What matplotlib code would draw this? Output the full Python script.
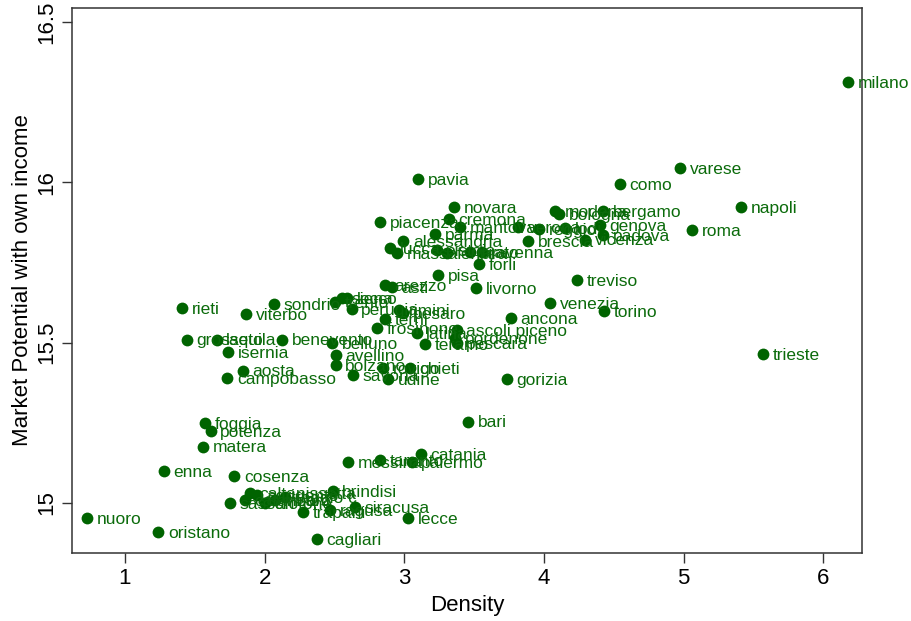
import matplotlib.pyplot as plt
import matplotlib

matplotlib.rcParams['font.family'] = ['Liberation Sans', 'DejaVu Sans']

# provinces, density and market potential
names = ['milano', 'varese', 'napoli', 'como', 'roma', 'pavia', 'novara',
         'piacenza', 'cremona', 'mantova', 'parma', 'alessandria', 'brescia',
         'verona', 'reggio', 'lodi', 'genova', 'padova', 'bergamo', 'modena',
         'bologna', 'vicenza', 'treviso', 'venezia', 'torino', 'trieste',
         'forli', 'pisa', 'livorno', 'arezzo', 'asti', 'massa', 'lucca',
         'pistoia', 'ferrara', 'prato', 'ravenna', 'sondrio', 'trento',
         'siena', 'lecco', 'rieti', 'viterbo', 'grosseto', 'laquila',
         'benevento', 'isernia', 'aosta', 'campobasso', 'belluno', 'avellino',
         'bolzano', 'savona', 'rovigo', 'chieti', 'udine', 'perugia', 'rimini',
         'pesaro', 'frosinone', 'terni', 'latina', 'ascoli piceno',
         'pordenone', 'pescara', 'teramo', 'ancona', 'gorizia', 'bari',
         'catania', 'messina', 'taranto', 'palermo', 'foggia', 'potenza',
         'matera', 'enna', 'cosenza', 'sassari', 'caltanissetta', 'agrigento',
         'catanzaro', 'crotone', 'vibo', 'reggio c', 'trapani', 'brindisi',
         'ragusa', 'siracusa', 'lecce', 'cagliari', 'oristano', 'nuoro']

density = [6.175, 4.973, 5.409, 4.543, 5.057, 3.097, 3.357,
           2.825, 3.319, 3.398, 3.219, 2.992, 3.887,
           3.815, 3.966, 4.150, 4.400, 4.422, 4.422, 4.078,
           4.107, 4.293, 4.233, 4.042, 4.429, 5.567,
           3.534, 3.243, 3.513, 2.861, 2.909, 2.945, 2.897,
           3.231, 3.303, 3.470, 3.553, 2.067, 2.503,
           2.551, 2.587, 1.406, 1.866, 1.442, 1.656,
           2.122, 1.735, 1.843, 1.732, 2.480, 2.508,
           2.508, 2.634, 2.849, 3.040, 2.885, 2.623, 2.964,
           2.992, 2.802, 2.861, 3.088, 3.374,
           3.362, 3.374, 3.147, 3.763, 3.732, 3.457,
           3.117, 2.598, 2.825, 3.052, 1.573, 1.613,
           1.556, 1.279, 1.782, 1.752, 1.895, 1.943,
           1.859, 2.002, 2.074, 2.145, 2.272, 2.487,
           2.467, 2.646, 3.024, 2.372, 1.238, 0.726]

mp = [16.313, 16.045, 15.923, 15.995, 15.851, 16.010, 15.922,
      15.877, 15.885, 15.860, 15.839, 15.818, 15.818,
      15.862, 15.854, 15.857, 15.867, 15.836, 15.911, 15.911,
      15.901, 15.822, 15.695, 15.625, 15.599, 15.465,
      15.745, 15.711, 15.671, 15.680, 15.674, 15.779, 15.794,
      15.789, 15.779, 15.784, 15.784, 15.621, 15.628,
      15.638, 15.638, 15.607, 15.589, 15.510, 15.510,
      15.510, 15.472, 15.413, 15.391, 15.498, 15.461,
      15.430, 15.399, 15.420, 15.420, 15.386, 15.604, 15.602,
      15.592, 15.545, 15.573, 15.529, 15.539,
      15.514, 15.498, 15.496, 15.576, 15.386, 15.254,
      15.152, 15.129, 15.134, 15.129, 15.250, 15.225,
      15.176, 15.101, 15.085, 15.001, 15.030, 15.025,
      15.009, 15.000, 15.009, 15.019, 14.973, 15.038,
      14.978, 14.988, 14.952, 14.887, 14.909, 14.954]

green = '#006400'

fig = plt.figure(figsize=(9.12, 6.21), dpi=100)
ax = fig.add_axes([0.0793, 0.1095, 0.866, 0.8775])

ax.plot(density, mp, 'o', color=green, markersize=8.5, markeredgewidth=0)
for n, x, y in zip(names, density, mp):
    ax.annotate(n, (x, y), xytext=(7, -1), textcoords='offset points',
                ha='left', va='center', fontsize=12.5, color='#0b6b0b',
                annotation_clip=False, clip_on=False)

ax.set_xlim(0.623, 6.277)
ax.set_ylim(14.844, 16.544)
ax.set_xticks([1, 2, 3, 4, 5, 6])
ax.set_xticklabels(['1', '2', '3', '4', '5', '6'], fontsize=16)
ax.set_yticks([15, 15.5, 16, 16.5])
ax.set_yticklabels(['15', '15.5', '16', '16.5'], fontsize=16,
                   rotation=90, va='center')
ax.tick_params(length=7, width=1, color='#333333', pad=4)
for s in ax.spines.values():
    s.set_color('#333333')
    s.set_linewidth(1.1)
ax.set_xlabel('Density', fontsize=16)
ax.set_ylabel('Market Potential with own income', fontsize=16, labelpad=2)

fig.savefig('out.png', dpi=100)
